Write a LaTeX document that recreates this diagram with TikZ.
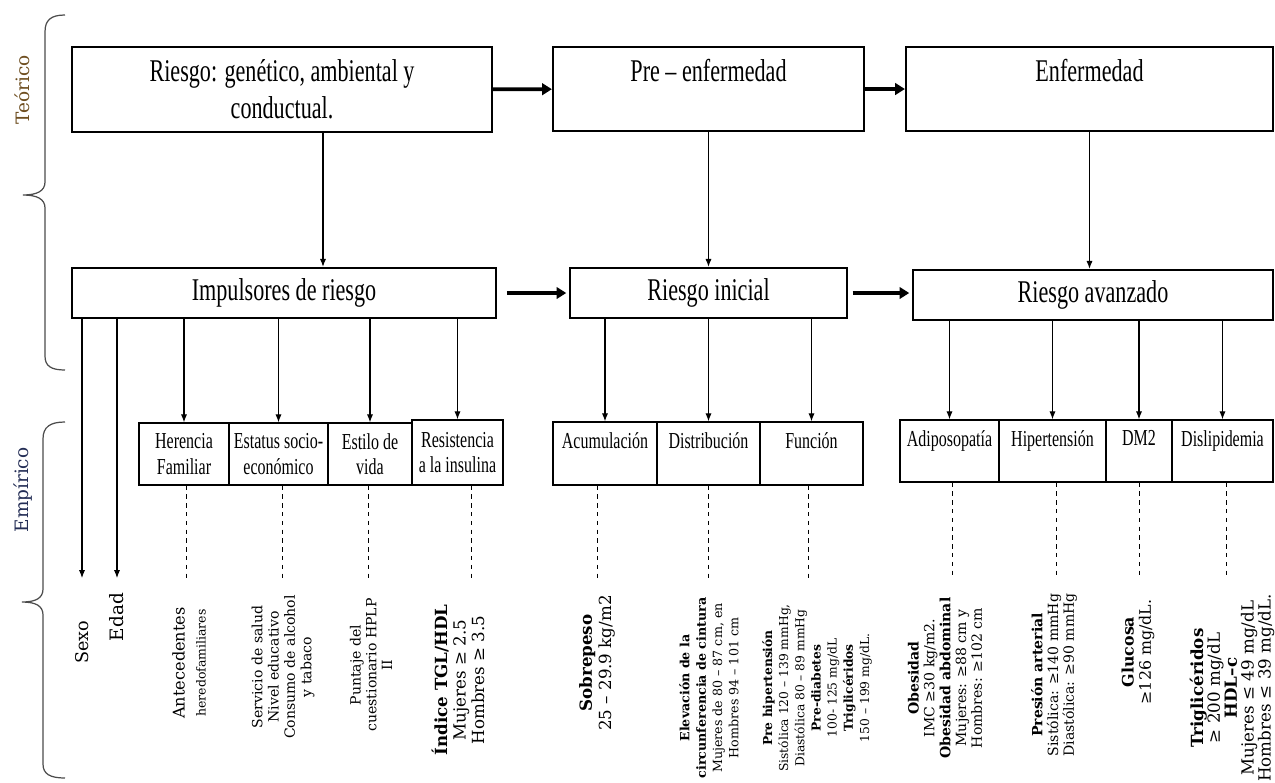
\documentclass[tikz,border=0pt]{standalone}
\usepackage{fontspec}
\setmainfont{DejaVu Serif}
\newfontfamily\cajafont[FakeStretch=0.7]{Liberation Serif}
\usetikzlibrary{arrows.meta,calc}
\definecolor{cafe}{RGB}{110,78,32}
\definecolor{azulos}{RGB}{35,45,85}
\tikzset{
  caja/.style  ={draw,line width=1.3pt,inner sep=0pt,align=center,
                 font=\cajafont\fontsize{18}{21}\selectfont},
  chica/.style ={draw,line width=0.8pt,inner sep=0pt,align=center,
                 font=\cajafont\fontsize{13}{14.5}\selectfont},
  dato/.style  ={rotate=90,align=center,inner sep=0pt},
  flecha/.style={-{Latex[length=4.5pt,width=3.5pt]},line width=0.6pt},
  gruesa/.style={-{Triangle[length=5.5pt,width=6.5pt]},line width=2.2pt},
  guia/.style  ={dash pattern=on 2.5pt off 2.5pt,line width=0.5pt},
  llave/.style ={line width=0.7pt,black!70},
}

\begin{document}
\begin{tikzpicture}[x=0.02cm,y=-0.02cm]
  \useasboundingbox (0,0) rectangle (1275,782);
  \clip (0,0) rectangle (1275,782);
  % llaves y niveles
  \draw[llave] (65,15) .. controls (51,15) and (45,20) .. (45,32) -- (45,182)
        .. controls (45,191) and (37,195) .. (23,195) .. controls (37,195) and (45,199) .. (45,208)
        -- (45,356) .. controls (45,366) and (51,370) .. (65,370);
  \draw[llave] (65,422) .. controls (50,422) and (43,427) .. (43,439) -- (43,589)
        .. controls (43,598) and (36,602) .. (22,602) .. controls (36,602) and (43,606) .. (43,615)
        -- (43,764) .. controls (43,774) and (50,778) .. (65,778);
  \node[rotate=90,text=cafe,font=\fontsize{10.5}{12}\selectfont] (teorico) at (22,90) {Teórico};
  \node[rotate=90,text=azulos,font=\fontsize{10.5}{12}\selectfont] (empirico) at (23,490) {Empírico};

  % nivel teorico
  \node[caja,minimum width=8.4cm,minimum height=1.7cm] (riesgo) at (282,89.5)
       {Riesgo: genético, ambiental y\\conductual.};
  \node[caja,minimum width=6.22cm,minimum height=1.68cm] (preenf) at (708.5,89)
       {Pre – enfermedad\\~};
  \node[caja,minimum width=7.34cm,minimum height=1.68cm] (enf) at (1089.5,89)
       {Enfermedad\\~};
  \draw[gruesa] (riesgo) -- (preenf);
  \draw[gruesa] (preenf) -- (enf);

  % nivel intermedio
  \node[caja,minimum width=8.48cm,minimum height=1cm] (impulsores) at (284,293) {Impulsores de riesgo};
  \node[caja,minimum width=5.54cm,minimum height=1cm] (inicial) at (708.5,293) {Riesgo inicial};
  \node[caja,minimum width=7.2cm,minimum height=1cm] (avanzado) at (1093,295) {Riesgo avanzado};
  \draw[gruesa,shorten <=5.5pt,shorten >=1.5pt] (impulsores) -- (inicial);
  \draw[gruesa,shorten <=2.5pt,shorten >=1.5pt] (inicial.east) -- (inicial.east -| avanzado.west);

  \coordinate (rb) at ($(riesgo.south)+(41,0)$);
  \draw[flecha] (rb) -- (rb |- impulsores.north);
  \draw[flecha] (preenf) -- (inicial);
  \draw[flecha] (enf.south) -- (enf.south |- avanzado.north);

  % cajas empiricas
  \node[chica,minimum width=1.8cm,minimum height=1.24cm] (herencia) at (184,454) {Herencia\\Familiar};
  \node[chica,minimum width=1.98cm,minimum height=1.24cm] (estatus) at (278.5,454) {Estatus socio-\\económico};
  \node[chica,minimum width=1.68cm,minimum height=1.24cm] (estilo) at (370,454) {Estilo de\\vida};
  \node[chica,minimum width=1.82cm,minimum height=1.3cm] (resistencia) at (457.5,452.5) {Resistencia\\a la insulina};

  \node[chica,minimum width=2.08cm,minimum height=1.26cm] (acum) at (605,453.5) {Acumulación\\~};
  \node[chica,minimum width=2.06cm,minimum height=1.26cm] (distrib) at (708.5,453.5) {Distribución\\~};
  \node[chica,minimum width=2.06cm,minimum height=1.26cm] (funcion) at (811.5,453.5) {Función\\~};

  \node[chica,minimum width=1.98cm,minimum height=1.24cm] (adipo) at (949.5,451) {Adiposopatía\\~};
  \node[chica,minimum width=2.14cm,minimum height=1.24cm] (hiper) at (1052.5,451) {Hipertensión\\~};
  \node[chica,minimum width=1.32cm,minimum height=1.24cm] (dm) at (1139,451) {DM2\\~};
  \node[chica,minimum width=2.02cm,minimum height=1.24cm] (disli) at (1222.5,451) {Dislipidemia\\~};

  \foreach \b in {herencia,estatus,estilo,resistencia}
    \draw[flecha] (impulsores.south -| \b.north) -- (\b.north);
  \foreach \b in {acum,distrib,funcion}
    \draw[flecha] (inicial.south -| \b.north) -- (\b.north);
  \foreach \b in {adipo,hiper,dm,disli}
    \draw[flecha] (avanzado.south -| \b.north) -- (\b.north);

  % indicadores
  \coordinate (tope) at (0,578);
  \node[dato,font=\fontsize{10}{12}\selectfont] (sexo) at (82,642) {Sexo};
  \node[dato,font=\fontsize{10.5}{12}\selectfont] (edad) at (117,617) {Edad};
  \node[dato] (antec) at (189,663)
       {{\fontsize{9.2}{10}\selectfont Antecedentes}\\{\fontsize{7.1}{9}\selectfont heredofamiliares}};
  \node[dato,font=\fontsize{8}{9.3}\selectfont] (servicio) at (283,667)
       {Servicio de salud\\Nivel educativo\\Consumo de alcohol\\y tabaco};
  \node[dato,font=\fontsize{8}{9}\selectfont] (puntaje) at (371,665)
       {Puntaje del\\cuestionario HPLP\\II};
  \node[dato,font=\fontsize{9.5}{10.5}\selectfont] (indice) at (458,680)
       {\textbf{Índice TGL/HDL}\\Mujeres ≥ 2.5\\Hombres ≥ 3.5};
  \node[dato,font=\fontsize{9.5}{11}\selectfont] (sobrepeso) at (597,663)
       {\textbf{Sobrepeso}\\25 – 29.9 kg/m2};
  \node[dato,font=\fontsize{7.2}{9.3}\selectfont] (cintura) at (709,688)
       {\textbf{Elevación de la}\\\textbf{circunferencia de cintura}\\Mujeres de 80 – 87 cm, en\\Hombres 94 – 101 cm};
  \node[dato,font=\fontsize{7}{9.2}\selectfont] (prehiper) at (817,688)
       {\textbf{Pre hipertensión}\\Sistólica 120 – 139 mmHg,\\Diastólica 80 – 89 mmHg\\\textbf{Pre-diabetes}\\100- 125 mg/dL\\\textbf{Triglicéridos}\\150 – 199 mg/dL.};
  \node[dato,font=\fontsize{8}{9}\selectfont] (obesidad) at (945,678)
       {\textbf{Obesidad}\\IMC ≥30 kg/m2.\\\textbf{Obesidad abdominal}\\Mujeres: ≥88 cm y\\Hombres: ≥102 cm};
  \node[dato,font=\fontsize{8}{9}\selectfont] (presion) at (1054,675)
       {\textbf{Presión arterial}\\Sistólica: ≥140 mmHg\\Diastólica: ≥90 mmHg};
  \node[dato,font=\fontsize{9}{9.8}\selectfont] (glucosa) at (1138,652)
       {\textbf{Glucosa}\\≥126 mg/dL.};
  \node[dato,font=\fontsize{9.5}{9.6}\selectfont] (trigli) at (1232,688)
       {\textbf{Triglicéridos}\\≥ 200 mg/dL\\\textbf{HDL–c}\\Mujeres ≤ 49 mg/dL\\Hombres ≤ 39 mg/dL.};

  \draw[flecha] (impulsores.south -| sexo) -- (sexo |- tope);
  \draw[flecha] (impulsores.south -| edad) -- (edad |- tope);
  \foreach \b/\d in {herencia/2,estatus/4,estilo/-2,resistencia/14,acum/-8,distrib/0,
                     funcion/-3,adipo/3,hiper/4,dm/0,disli/4}{
    \coordinate (g) at ($(\b.south)+(\d,0)$);
    \draw[guia] (g) -- (g |- tope);
  }
\end{tikzpicture}
\end{document}
